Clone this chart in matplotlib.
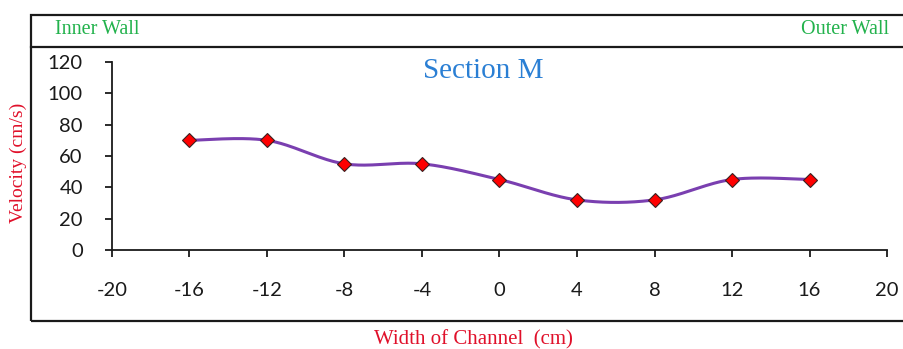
import numpy as np
import matplotlib.pyplot as plt
from matplotlib.patches import Rectangle
from matplotlib.lines import Line2D

# data
width_cm = [-16, -12, -8, -4, 0, 4, 8, 12, 16]
velocity = [70, 70, 55, 55, 45, 32, 32, 45, 45]
x_ticks = [-20, -16, -12, -8, -4, 0, 4, 8, 12, 16, 20]
y_ticks = [0, 20, 40, 60, 80, 100, 120]


def smooth(xs, ys, n=40):
    # excel style smoothed line (catmull-rom as bezier)
    p = np.column_stack([xs, ys]).astype(float)
    p = np.vstack([p[0], p, p[-1]])
    out = []
    t = np.linspace(0, 1, n)[:, None]
    for i in range(1, len(p) - 2):
        p0, p3 = p[i], p[i + 1]
        c1 = p0 + (p[i + 1] - p[i - 1]) / 6
        c2 = p3 - (p[i + 2] - p[i]) / 6
        seg = (1 - t) ** 3 * p0 + 3 * (1 - t) ** 2 * t * c1 + 3 * (1 - t) * t ** 2 * c2 + t ** 3 * p3
        out.append(seg)
    out = np.vstack(out)
    return out[:, 0], out[:, 1]


W, H = 904, 349
fig = plt.figure(figsize=(W / 100, H / 100), dpi=100)


def fx(px):
    return px / W


def fy(py):
    return 1 - py / H


# outer frame and header strip
frame = Rectangle((fx(31), fy(321)), fx(920 - 31), fy(15) - fy(321),
                  transform=fig.transFigure, fill=False, lw=1.6, ec="#1a1a1a")
fig.patches.append(frame)
fig.lines.append(Line2D([fx(31), 1.02], [fy(47), fy(47)], transform=fig.transFigure,
                        lw=1.6, color="#1a1a1a"))

serif = "Liberation Serif"
green = "#22b24c"
red = "#e0102a"
fig.text(fx(55), fy(29), "Inner Wall", color=green, family=serif, fontsize=14.5,
         ha="left", va="center")
fig.text(fx(889), fy(29), "Outer Wall", color=green, family=serif, fontsize=14.5,
         ha="right", va="center")

ax = fig.add_axes([fx(112), fy(250), fx(887 - 112), fy(62) - fy(250)])

sx, sy = smooth(width_cm, velocity)
ax.plot(sx, sy, color="#7a3fb0", lw=2.2, zorder=2)
ax.plot(width_cm, velocity, ls="none", marker="D", ms=7.5, mfc="#ff0000",
        mec="#3a2020", mew=0.8, zorder=3)

ax.set_xlim(-20, 20)
ax.set_ylim(0, 120)
ax.set_xticks(x_ticks)
ax.set_yticks(y_ticks)
ax.set_xticklabels([str(v) for v in x_ticks])
ax.set_yticklabels([str(v) for v in y_ticks])

for s in ["top", "right"]:
    ax.spines[s].set_visible(False)
for s in ["left", "bottom"]:
    ax.spines[s].set_color("#1a1a1a")
    ax.spines[s].set_linewidth(1.3)

ax.tick_params(axis="x", direction="out", length=5, width=1.3, pad=18,
               labelsize=14.5, colors="#1a1a1a")
ax.tick_params(axis="y", direction="out", length=5, width=1.3, pad=16,
               labelsize=14.5, colors="#1a1a1a")
for lab in ax.get_xticklabels() + ax.get_yticklabels():
    lab.set_family("Lato")

ax.text(0.479, 0.95, "Section M", transform=ax.transAxes, ha="center", va="center",
        family=serif, fontsize=21, color="#2a7fd4")

fig.text(fx(18), fy(163), "Velocity (cm/s)", rotation=90, color=red, family=serif,
         fontsize=14, ha="center", va="center")
fig.text(fx(473), fy(340), "Width of Channel  (cm)", color=red, family=serif,
         fontsize=15, ha="center", va="center")

fig.savefig("out.png", dpi=100)
